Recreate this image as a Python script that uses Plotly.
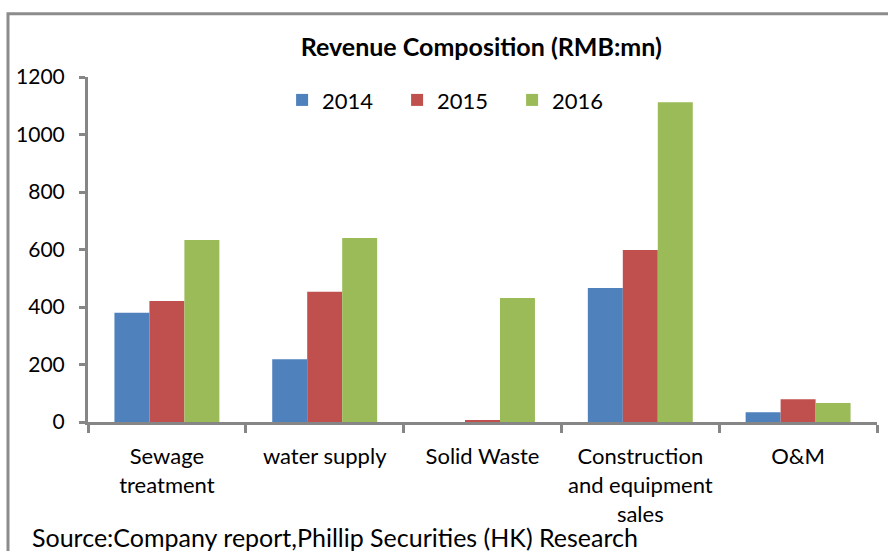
import plotly.graph_objects as go

categories = ["Sewage<br>treatment", "water supply", "Solid Waste",
              "Construction<br>and equipment<br>sales", "O&M"]
series_names = ["2014", "2015", "2016"]
values_2014 = [380, 218, 0, 466, 34]
values_2015 = [421, 453, 7, 598, 79]
values_2016 = [633, 640, 431, 1112, 66]
colors = ["#4F81BD", "#C0504D", "#9BBB59"]
y_ticks = [0, 200, 400, 600, 800, 1000, 1200]

FONT = "Lato"

fig = go.Figure()
for name, vals, col in zip(series_names, [values_2014, values_2015, values_2016], colors):
    fig.add_trace(go.Bar(x=categories, y=vals, name=name,
                         marker=dict(color=col, line=dict(width=0))))

fig.update_layout(
    width=888, height=551,
    margin=dict(l=88, r=11, t=77, b=129),
    paper_bgcolor="white", plot_bgcolor="white",
    barmode="group", bargap=0.335, bargroupgap=0,
    font=dict(family=FONT, size=21, color="black"),
    title=dict(text="<b>Revenue Composition (RMB:mn)</b>", x=0.542, xanchor="center",
               y=0.915, yanchor="middle", font=dict(family=FONT, size=25, color="black")),
    legend=dict(orientation="h", x=0.246, xanchor="left", y=0.933, yanchor="middle",
                font=dict(family=FONT, size=22), itemwidth=30, traceorder="normal",
                entrywidth=70, entrywidthmode="pixels",
                bgcolor="rgba(0,0,0,0)"),
    showlegend=True,
)
fig.update_xaxes(showline=True, linecolor="#868686", linewidth=3, ticks="outside",
                 tickson="boundaries", ticklen=8, tickwidth=3, tickcolor="#868686",
                 showgrid=False, automargin=False, ticklabelstandoff=13,
                 tickfont=dict(family=FONT, size=22))
fig.update_yaxes(range=[0, 1200], tickvals=y_ticks, showline=True, linecolor="#868686",
                 linewidth=3, ticks="outside", ticklen=6, tickwidth=3, tickcolor="#868686",
                 showgrid=False, zeroline=False, ticklabelstandoff=10, automargin=False,
                 tickfont=dict(family=FONT, size=21))

fig.add_shape(type="rect", xref="paper", yref="paper",
              x0=-0.1014, x1=1.05, y0=-0.6, y1=1.183,
              line=dict(color="#8c8c8c", width=3), fillcolor="rgba(0,0,0,0)", layer="below")
fig.add_annotation(text="Source:Company report,Phillip Securities (HK) Research",
                   xref="paper", yref="paper", x=-0.0735, xanchor="left",
                   y=-0.333, yanchor="middle", showarrow=False,
                   font=dict(family=FONT, size=25, color="black"))

fig.write_html("out.html", config={"displayModeBar": False},
               post_script="document.body.style.margin='0';")
